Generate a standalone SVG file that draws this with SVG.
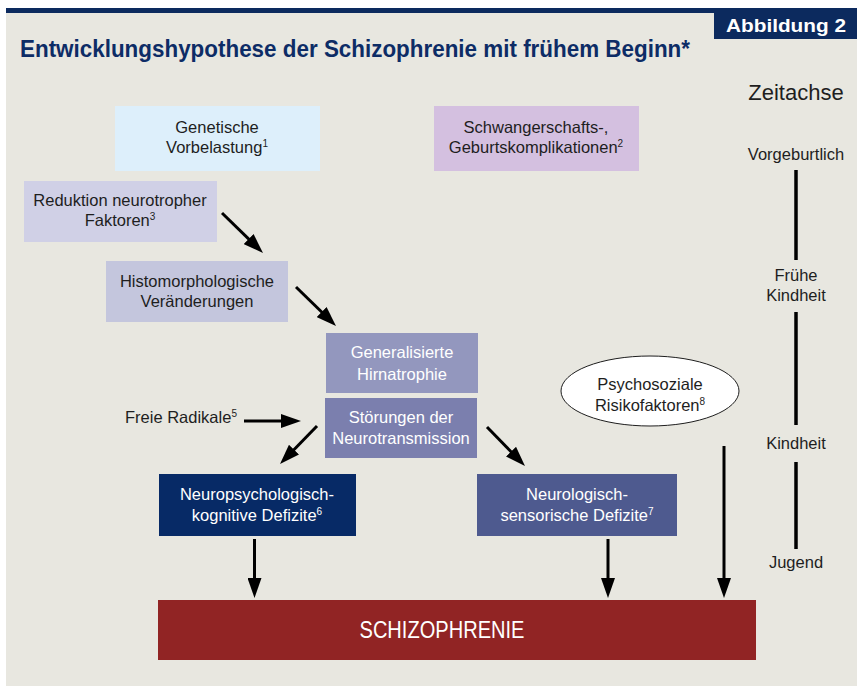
<svg xmlns="http://www.w3.org/2000/svg" width="857" height="686" viewBox="0 0 857 686">
<defs>
<style>
.t{font-family:"Liberation Sans",Arial,sans-serif;font-size:16.5px;fill:#1e1e1e;text-anchor:middle}
.w{fill:#ffffff}
.sup{font-size:10px}
.ln{stroke:#000;stroke-width:3;fill:none}
.ax{stroke:#000;stroke-width:3.5;fill:none}
</style>
<marker id="ah" markerUnits="userSpaceOnUse" markerWidth="20" markerHeight="14" refX="14" refY="7" orient="auto">
<path d="M0,0 L20,7 L0,14 z" fill="#000"/>
</marker>
</defs>
<rect x="0" y="0" width="857" height="686" fill="#ffffff"/>
<rect x="6" y="8" width="851" height="678" fill="#E8E7E0"/>
<rect x="6" y="8" width="851" height="5" fill="#0C2A5E"/>
<g id="header">
<rect x="714" y="13" width="143" height="26" fill="#0C2A5E"/>
<text x="786" y="32" textLength="120" lengthAdjust="spacingAndGlyphs" style="font-family:'Liberation Sans',Arial,sans-serif;font-size:19px;font-weight:bold;fill:#fff;text-anchor:middle">Abbildung 2</text>
<text x="20" y="57" textLength="670" lengthAdjust="spacingAndGlyphs" style="font-family:'Liberation Sans',Arial,sans-serif;font-size:24px;font-weight:bold;fill:#0D2C66">Entwicklungshypothese der Schizophrenie mit frühem Beginn*</text>
</g>
<g id="timeline">
<text x="796" y="100" class="t" style="font-size:22px">Zeitachse</text>
<text x="796" y="160" class="t">Vorgeburtlich</text>
<line x1="796" y1="170" x2="796" y2="260" class="ax"/>
<text x="796" y="281" class="t">Frühe</text>
<text x="796" y="301" class="t">Kindheit</text>
<line x1="796" y1="312" x2="796" y2="425" class="ax"/>
<text x="796" y="449" class="t">Kindheit</text>
<line x1="796" y1="462" x2="796" y2="549" class="ax"/>
<text x="796" y="568" class="t">Jugend</text>
</g>
<g id="genetische">
<rect x="115" y="106" width="205" height="65" fill="#DDEFFB"/>
<text x="217" y="133" class="t">Genetische</text>
<text x="217" y="153" class="t">Vorbelastung<tspan class="sup" dy="-6">1</tspan></text>
</g>
<g id="schwangerschaft">
<rect x="434" y="106" width="205" height="65" fill="#D4C0E0"/>
<text x="536" y="133" class="t">Schwangerschafts-,</text>
<text x="536" y="153" class="t">Geburtskomplikationen<tspan class="sup" dy="-6">2</tspan></text>
</g>
<g id="reduktion">
<rect x="24" y="181" width="193" height="61" fill="#D0D0E6"/>
<text x="120" y="206" class="t">Reduktion neurotropher</text>
<text x="120" y="226" class="t">Faktoren<tspan class="sup" dy="-6">3</tspan></text>
</g>
<g id="histomorph">
<rect x="106" y="261" width="182" height="61" fill="#C4C6DD"/>
<text x="197" y="287" class="t">Histomorphologische</text>
<text x="197" y="307" class="t">Veränderungen</text>
</g>
<g id="hirnatrophie">
<rect x="326" y="333" width="152" height="60" fill="#9397BE"/>
<text x="402" y="358" class="t w">Generalisierte</text>
<text x="402" y="380" class="t w">Hirnatrophie</text>
</g>
<g id="neurotransmission">
<rect x="325" y="398" width="152" height="60" fill="#7B7FAE"/>
<text x="401" y="423" class="t w">Störungen der</text>
<text x="401" y="444" class="t w">Neurotransmission</text>
</g>
<g id="radikale">
<text x="125" y="423" class="t" style="text-anchor:start">Freie Radikale<tspan class="sup" dy="-6">5</tspan></text>
</g>
<g id="neuropsych">
<rect x="159" y="474" width="197" height="62" fill="#072A66"/>
<text x="257" y="500" class="t w">Neuropsychologisch-</text>
<text x="257" y="521" class="t w">kognitive Defizite<tspan class="sup" dy="-6">6</tspan></text>
</g>
<g id="neurologisch">
<rect x="477" y="474" width="200" height="62" fill="#4E5A8F"/>
<text x="577" y="500" class="t w">Neurologisch-</text>
<text x="577" y="521" class="t w">sensorische Defizite<tspan class="sup" dy="-6">7</tspan></text>
</g>
<g id="psychosozial">
<ellipse cx="650" cy="391" rx="89" ry="35" fill="#ffffff" stroke="#1e1e1e" stroke-width="1"/>
<text x="650" y="390" class="t">Psychosoziale</text>
<text x="650" y="411" class="t">Risikofaktoren<tspan class="sup" dy="-6">8</tspan></text>
</g>
<g id="schizophrenie">
<rect x="158" y="600" width="598" height="60" fill="#912424"/>
<text x="442" y="638" textLength="165" lengthAdjust="spacingAndGlyphs" class="t w" style="font-size:24px">SCHIZOPHRENIE</text>
</g>
<g id="connectors">
<line x1="222" y1="213" x2="258.7" y2="248.8" class="ln" marker-end="url(#ah)"/>
<line x1="296" y1="287" x2="331.7" y2="321.8" class="ln" marker-end="url(#ah)"/>
<line x1="244" y1="421" x2="295" y2="421" class="ln" marker-end="url(#ah)"/>
<line x1="317" y1="426" x2="284.2" y2="459.7" class="ln" marker-end="url(#ah)"/>
<line x1="487" y1="427" x2="520.8" y2="461.7" class="ln" marker-end="url(#ah)"/>
<line x1="254.5" y1="539" x2="254.5" y2="592" class="ln" marker-end="url(#ah)"/>
<line x1="608" y1="539" x2="608" y2="592" class="ln" marker-end="url(#ah)"/>
<line x1="724" y1="446" x2="724" y2="592" class="ln" marker-end="url(#ah)"/>
</g>
</svg>
